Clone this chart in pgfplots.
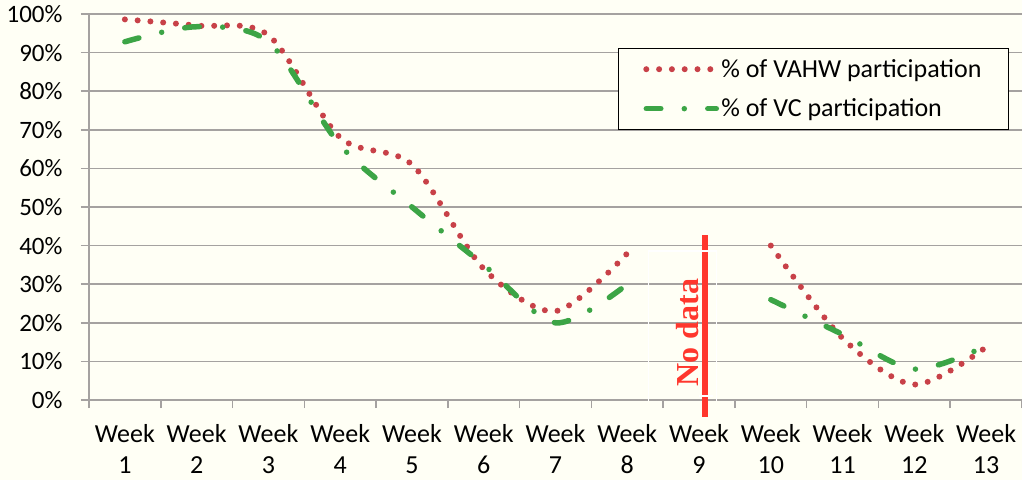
\documentclass[border=0pt]{standalone}
\usepackage{fontspec}
\setmainfont{Carlito}
\newfontfamily\timesfont{Liberation Serif}
\usepackage{pgfplots}
\pgfplotsset{compat=1.18}
\definecolor{bg}{RGB}{255,255,245}
\definecolor{gridc}{RGB}{165,162,160}
\definecolor{vahw}{RGB}{200,65,72}
\definecolor{vc}{RGB}{60,165,70}
\definecolor{nodata}{RGB}{255,55,45}
\newcommand{\fs}{\fontsize{26}{31}\selectfont}
\newcommand{\fy}{\fontsize{25}{30}\selectfont}
\begin{document}
\begin{tikzpicture}
\fill[bg] (-89pt,-80pt) rectangle (933pt,400pt);
\begin{axis}[
  at={(0pt,0pt)}, anchor=south west,
  scale only axis, width=933pt, height=386pt,
  xmin=0.5, xmax=13.5, ymin=0, ymax=100,
  axis lines=left,
  axis line style={-, draw=gridc, line width=1.5pt},
  clip=false,
  tick align=outside,
  major tick length=8pt,
  tick style={draw=gridc, line width=1.5pt},
  xtick={0.5,1.5,...,13.5},
  xticklabels={},
  extra x ticks={1,2,...,13},
  extra x tick labels={Week\\1,Week\\2,Week\\3,Week\\4,Week\\5,Week\\6,Week\\7,Week\\8,Week\\9,Week\\10,Week\\11,Week\\12,Week\\13},
  extra x tick style={major tick length=0pt, tick style={draw=none}},
  xticklabel style={align=center, font=\fs, text=black, yshift=-21pt},
  ytick={0,10,...,100},
  yticklabels={0\%,10\%,20\%,30\%,40\%,50\%,60\%,70\%,80\%,90\%,100\%},
  yticklabel style={font=\fy, text=black, xshift=-15pt},
  ymajorgrids,
  grid style={draw=gridc, line width=1.5pt},
  legend style={at={(0.986,0.912)}, anchor=north east, draw=black, line width=1pt,
    fill=bg, font=\fs, inner xsep=25pt, inner ysep=9pt, row sep=16pt},
  legend cell align=left,
  legend image code/.code={\draw[#1] (0pt,0pt) -- (70pt,0pt);},
]
\addplot[vahw, line width=6pt, line cap=round, dash pattern=on 0pt off 12.8pt, smooth]
  coordinates {(1,98.6) (2,97) (3,94.5) (4,68) (5,61) (6,34) (7,23) (8,38)};
\addlegendentry{\% of VAHW participation}
\addplot[vc, line width=5.5pt, line cap=round, dash pattern=on 14.5pt off 23.5pt on 0pt off 23.5pt, smooth]
  coordinates {(1,92.8) (2,96.7) (3,92.8) (4,66) (5,50) (6,35) (7,20) (8,30)};
\addlegendentry{\% of VC participation}
\addplot[vahw, line width=6pt, line cap=round, dash pattern=on 0pt off 12.8pt, smooth, forget plot]
  coordinates {(10,40) (11,16) (12,4) (13,13.7)};
\addplot[vc, line width=5.5pt, line cap=round, dash pattern=on 14.5pt off 23.5pt on 0pt off 23.5pt, smooth, forget plot]
  coordinates {(10,26) (11,17) (12,8) (13,14)};
\draw[nodata, line width=6pt] (axis cs:9.083,42.7) -- (axis cs:9.083,-4.4);
\node[rotate=90, text=nodata, font=\timesfont\bfseries\fontsize{32}{32}\selectfont, inner sep=0pt]
  at (axis cs:8.846,17.5) {No data};
\draw[white, line width=1.5pt] (axis cs:8.296,-0.3) -- (axis cs:8.296,38.6) -- (axis cs:9.243,38.6) -- (axis cs:9.243,-0.3);
\draw[white, line width=1.5pt] (axis cs:9.0,1.0) -- (axis cs:9.2,1.0);
\end{axis}
\pgfresetboundingbox
\path (-89pt,-80pt) rectangle (933pt,400pt);
\end{tikzpicture}
\end{document}
